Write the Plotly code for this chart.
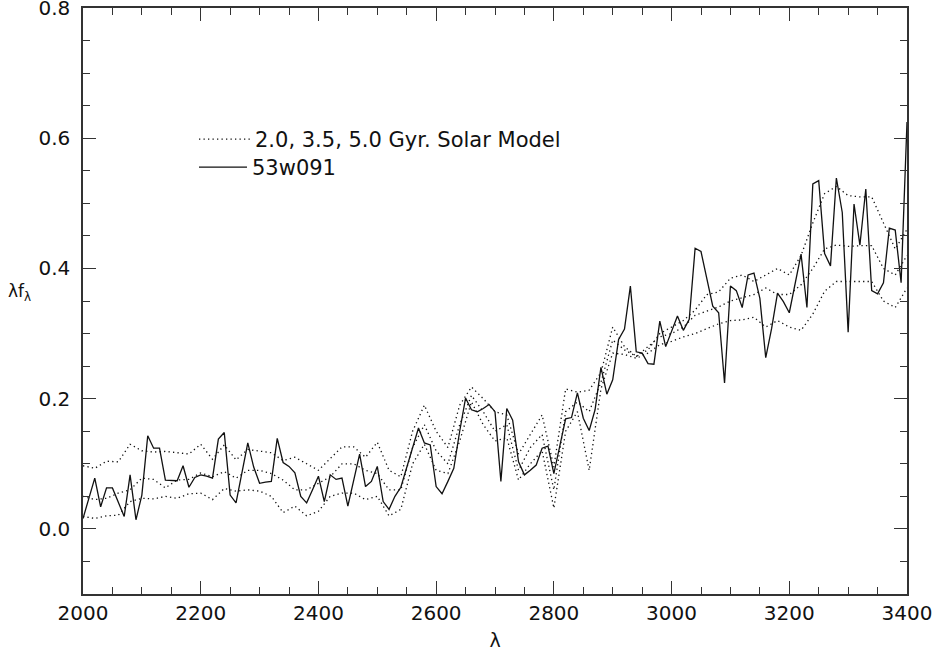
import numpy as np
import plotly.graph_objects as go

# ---- observed spectrum 53w091 (10 A sampling) ----
obs_wave = list(range(2000, 3401, 10))
obs_flux = [
    0.016, 0.047, 0.078, 0.034, 0.063, 0.063, 0.041, 0.019, 0.083, 0.014,
    0.052, 0.143, 0.124, 0.124, 0.075, 0.075, 0.074, 0.097, 0.064, 0.079,
    0.083, 0.081, 0.078, 0.138, 0.148, 0.052, 0.040, 0.086, 0.132, 0.095,
    0.070, 0.072, 0.073, 0.139, 0.102, 0.096, 0.086, 0.050, 0.040, 0.060,
    0.081, 0.042, 0.083, 0.076, 0.078, 0.035, 0.075, 0.115, 0.065, 0.073,
    0.096, 0.042, 0.030, 0.050, 0.064, 0.094, 0.125, 0.155, 0.132, 0.129,
    0.065, 0.054, 0.073, 0.093, 0.150, 0.201, 0.183, 0.180, 0.185, 0.191,
    0.180, 0.073, 0.185, 0.167, 0.103, 0.083, 0.090, 0.098, 0.124, 0.127,
    0.085, 0.129, 0.169, 0.171, 0.209, 0.170, 0.151, 0.183, 0.248, 0.207,
    0.229, 0.291, 0.307, 0.373, 0.272, 0.270, 0.254, 0.253, 0.319, 0.280,
    0.303, 0.327, 0.305, 0.322, 0.431, 0.426, 0.384, 0.342, 0.332, 0.224,
    0.373, 0.366, 0.340, 0.390, 0.393, 0.354, 0.263, 0.308, 0.362, 0.349,
    0.332, 0.377, 0.422, 0.340, 0.530, 0.535, 0.423, 0.404, 0.539, 0.486,
    0.302, 0.499, 0.436, 0.522, 0.366, 0.361, 0.378, 0.462, 0.459, 0.378,
    0.625,
]

# ---- solar-metallicity models (20 A sampling) ----
model_wave = list(range(2000, 3401, 20))
model_2gyr = [
    0.097, 0.093, 0.104, 0.103, 0.130, 0.120, 0.118, 0.119, 0.117, 0.115,
    0.130, 0.107, 0.129, 0.106, 0.122, 0.120, 0.117, 0.105, 0.110, 0.100,
    0.090, 0.108, 0.126, 0.126, 0.110, 0.133, 0.090, 0.080, 0.150, 0.190,
    0.150, 0.125, 0.190, 0.218, 0.200, 0.180, 0.175, 0.115, 0.145, 0.175,
    0.095, 0.215, 0.210, 0.213, 0.240, 0.310, 0.280, 0.265, 0.275, 0.300,
    0.310, 0.320, 0.336, 0.360, 0.364, 0.385, 0.390, 0.380, 0.390, 0.400,
    0.390, 0.420, 0.470, 0.515, 0.526, 0.512, 0.510, 0.510, 0.470, 0.430,
    0.460,
]
model_35gyr = [
    0.050, 0.045, 0.047, 0.055, 0.060, 0.078, 0.076, 0.063, 0.075, 0.076,
    0.086, 0.080, 0.088, 0.078, 0.090, 0.090, 0.085, 0.075, 0.060, 0.060,
    0.070, 0.080, 0.100, 0.100, 0.090, 0.085, 0.060, 0.060, 0.125, 0.160,
    0.120, 0.100, 0.160, 0.205, 0.180, 0.150, 0.160, 0.090, 0.125, 0.145,
    0.060, 0.180, 0.195, 0.180, 0.225, 0.290, 0.275, 0.265, 0.280, 0.295,
    0.300, 0.310, 0.328, 0.335, 0.341, 0.350, 0.355, 0.360, 0.370, 0.360,
    0.360, 0.375, 0.400, 0.430, 0.436, 0.434, 0.435, 0.435, 0.400, 0.390,
    0.420,
]
model_5gyr = [
    0.019, 0.016, 0.020, 0.021, 0.042, 0.047, 0.046, 0.050, 0.047, 0.054,
    0.055, 0.045, 0.062, 0.058, 0.060, 0.058, 0.050, 0.025, 0.035, 0.020,
    0.027, 0.050, 0.055, 0.055, 0.045, 0.050, 0.020, 0.030, 0.100, 0.130,
    0.090, 0.085, 0.135, 0.195, 0.160, 0.135, 0.140, 0.075, 0.100, 0.120,
    0.032, 0.150, 0.180, 0.090, 0.215, 0.270, 0.268, 0.262, 0.270, 0.283,
    0.288, 0.295, 0.300, 0.308, 0.315, 0.320, 0.321, 0.325, 0.310, 0.320,
    0.310, 0.305, 0.330, 0.365, 0.380, 0.380, 0.380, 0.380, 0.350, 0.340,
    0.370,
]

x_tickvals = list(range(2000, 3401, 200))
y_tickvals = [0.0, 0.2, 0.4, 0.6, 0.8]
y_ticktext = ["0.0", "0.2", "0.4", "0.6", "0.8"]

FONT = "DejaVu Sans"
ink = "#111111"
axc = "#333333"
dot_line = dict(color=ink, width=1.3, dash="1.3px,3.2px")

fig = go.Figure()
for i, ys in enumerate([model_2gyr, model_35gyr, model_5gyr]):
    fig.add_trace(go.Scatter(
        x=model_wave, y=ys, mode="lines", line=dot_line,
        name="2.0, 3.5, 5.0 Gyr. Solar Model", showlegend=(i == 0),
        legend="legend",
    ))
fig.add_trace(go.Scatter(
    x=obs_wave, y=obs_flux, mode="lines",
    line=dict(color=ink, width=1.3), name="53w091", legend="legend2",
))

axis_common = dict(
    showline=True, linecolor=axc, linewidth=1.5, mirror="ticks",
    ticks="inside", tickcolor=axc, tickwidth=1, ticklen=13,
    showgrid=False, zeroline=False, ticklabeloverflow="allow", automargin=False,
    tickfont=dict(family=FONT, size=20, color=ink),
)

fig.update_xaxes(
    range=[2000, 3400], tickvals=x_tickvals, ticklabelstandoff=0,
    minor=dict(dtick=50, tick0=2000, ticklen=7, ticks="inside", tickcolor=axc, showgrid=False),
    title=dict(text="λ", font=dict(family=FONT, size=19, color=ink), standoff=10),
    **axis_common,
)
fig.update_yaxes(
    range=[-0.1, 0.8001], tickvals=y_tickvals, ticktext=y_ticktext, ticklabelstandoff=7,
    minor=dict(dtick=0.05, tick0=0, ticklen=7, ticks="inside", tickcolor=axc, showgrid=False),
    **axis_common,
)

fig.add_annotation(
    xref="paper", yref="paper", x=-0.0765, y=0.514, xanchor="center", yanchor="middle",
    text="λf<sub>λ</sub>", showarrow=False, font=dict(family=FONT, size=17, color=ink),
)

legend_common = dict(
    xanchor="left", yanchor="top", bgcolor="rgba(0,0,0,0)", borderwidth=0,
    font=dict(family=FONT, size=21, color=ink),
)
fig.update_layout(
    width=943, height=654,
    margin=dict(l=83, r=36, t=8, b=60),
    paper_bgcolor="white", plot_bgcolor="white",
    font=dict(family=FONT, size=20, color=ink),
    legend=dict(x=0.1347, y=0.8105, itemwidth=51, **legend_common),
    legend2=dict(x=0.1347, y=0.7628, itemwidth=48, **legend_common),
)

fig.write_html(
    "out.html",
    config={"displayModeBar": False},
    post_script="document.body.style.margin='0';",
)
